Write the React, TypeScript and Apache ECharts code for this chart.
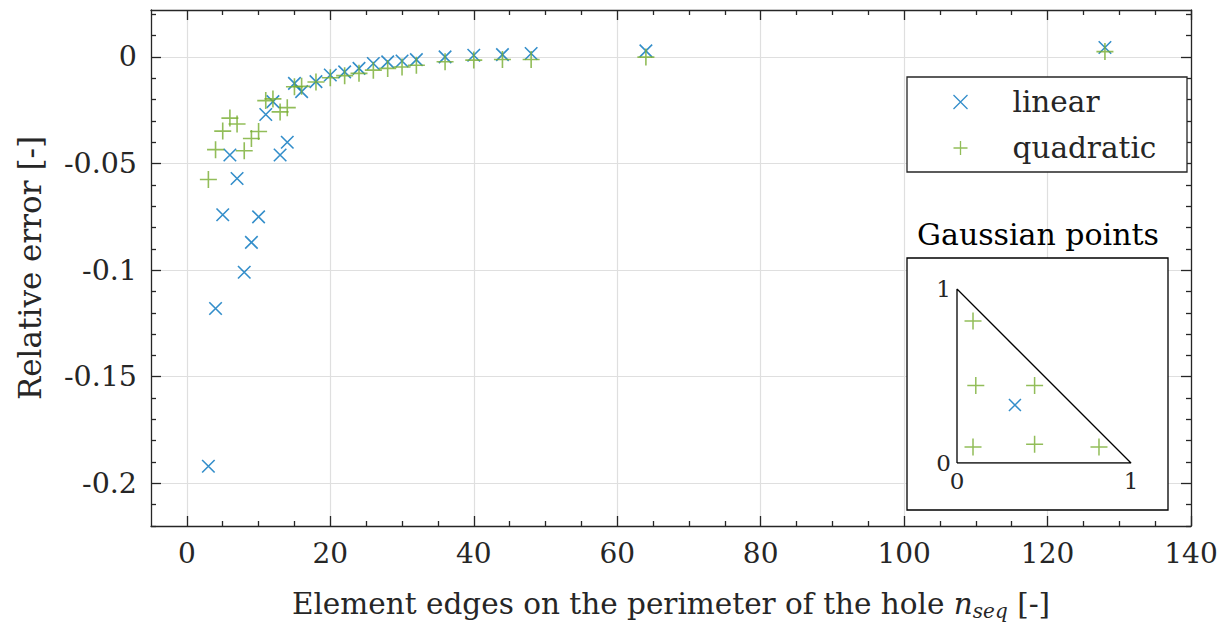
import React, { useEffect, useRef } from 'react';
import * as echarts from 'echarts';

// ---- data ----
const nSeg = [3, 4, 5, 6, 7, 8, 9, 10, 11, 12, 13, 14, 15, 16, 18, 20, 22, 24, 26, 28, 30, 32, 36, 40, 44, 48, 64, 128];
const errLinear = [-0.192, -0.118, -0.074, -0.046, -0.057, -0.101, -0.087, -0.075, -0.027, -0.021, -0.046, -0.040, -0.0124, -0.0163, -0.0116, -0.0085, -0.0070, -0.0054, -0.0031, -0.0023, -0.0019, -0.0013, 0.0000, 0.0008, 0.0011, 0.0016, 0.0028, 0.0044];
const errQuadratic = [-0.0575, -0.0435, -0.0348, -0.0287, -0.0315, -0.0440, -0.0383, -0.0350, -0.0205, -0.0197, -0.0258, -0.0238, -0.0140, -0.0138, -0.0118, -0.0098, -0.0088, -0.0077, -0.0062, -0.0054, -0.0047, -0.0039, -0.0023, -0.0015, -0.0012, -0.0012, -0.0001, 0.0025];

const xMajor = [0, 20, 40, 60, 80, 100, 120, 140];
const xMinor = [5, 10, 15, 25, 30, 35, 45, 50, 55, 65, 70, 75, 85, 90, 95, 105, 110, 115, 125, 130, 135];
const yMajor = [-0.2, -0.15, -0.1, -0.05, 0];
const yMinor = [-0.22, -0.21, -0.19, -0.18, -0.17, -0.16, -0.14, -0.13, -0.12, -0.11, -0.09, -0.08, -0.07, -0.06, -0.04, -0.03, -0.02, -0.01, 0.01, 0.02];

// Gaussian points of the reference triangle
const gaussLinearXi = [0.333];
const gaussLinearEta = [0.333];
const gaussQuadXi = [0.092, 0.816, 0.092, 0.446, 0.446, 0.108];
const gaussQuadEta = [0.092, 0.092, 0.816, 0.108, 0.446, 0.446];
const triangleXi = [0, 1, 0, 0];
const triangleEta = [0, 0, 1, 0];
const insetTicks = [0, 1];

const BLUE = '#0072BD';
const GREEN = '#77AC30';
const INK = '#262626';
const FONT = '"DejaVu Serif", "Liberation Serif", serif';
const X_PATH = 'path://M0,0L10,10M10,0L0,10';
const PLUS_PATH = 'path://M5,0L5,10M0,5L10,5';

const X_MIN = -5, X_MAX = 140, Y_MIN = -0.22, Y_MAX = 0.022;

function mainX(pos: 'bottom' | 'top', major: boolean, withLabels: boolean, name?: string) {
  return {
    type: 'value', gridIndex: 0, position: pos, min: X_MIN, max: X_MAX,
    axisLine: { show: major, onZero: false, lineStyle: { color: INK, width: 1.3 } },
    axisTick: { show: true, inside: true, length: major ? 10 : 5, customValues: major ? xMajor : xMinor, lineStyle: { color: INK, width: 1.3 } },
    axisLabel: withLabels
      ? { show: true, customValues: xMajor, margin: 13, fontSize: 28, fontFamily: FONT, color: INK }
      : { show: false },
    splitLine: { show: major && withLabels, lineStyle: { color: '#dfdfdf', width: 1.2 } },
    name: name,
    nameLocation: 'middle',
    nameGap: 61,
    nameTextStyle: {
      fontSize: 29.5, fontFamily: FONT, color: INK,
      rich: {
        n: { fontSize: 29.5, fontFamily: FONT, fontStyle: 'italic', color: INK },
        sub: { fontSize: 20, fontFamily: FONT, fontStyle: 'italic', color: INK, padding: [14, 0, 0, 0] },
        t: { fontSize: 29.5, fontFamily: FONT, color: INK },
      },
    },
  };
}

function mainY(pos: 'left' | 'right', major: boolean, withLabels: boolean, name?: string) {
  return {
    type: 'value', gridIndex: 0, position: pos, min: Y_MIN, max: Y_MAX,
    axisLine: { show: major, onZero: false, lineStyle: { color: INK, width: 1.3 } },
    axisTick: { show: true, inside: true, length: major ? 10 : 5, customValues: major ? yMajor : yMinor, lineStyle: { color: INK, width: 1.3 } },
    axisLabel: withLabels
      ? { show: true, customValues: yMajor, margin: 14, fontSize: 28.5, fontFamily: FONT, color: INK, formatter: (v: number) => (v === 0 ? '0' : String(v)) }
      : { show: false },
    splitLine: { show: major && withLabels, lineStyle: { color: '#dfdfdf', width: 1.2 } },
    name: name,
    nameLocation: 'middle',
    nameGap: 106,
    nameTextStyle: { fontSize: 31, fontFamily: FONT, color: INK },
  };
}

export default function App() {
  const ref = useRef<HTMLDivElement>(null);
  useEffect(() => {
    if (!ref.current) return;
    const chart = echarts.init(ref.current, undefined, { renderer: 'svg' });
    const linearData = nSeg.map((n, i) => [n, errLinear[i]]);
    const quadData = nSeg.map((n, i) => [n, errQuadratic[i]]);
    const insetAxisCommon = {
      min: 0, max: 1, gridIndex: 1, z: 10,
      axisLine: { show: false, onZero: false },
      axisTick: { show: false },
      splitLine: { show: false },
    };
    chart.setOption({
      animation: false,
      backgroundColor: '#ffffff',
      grid: [
        { left: 151, right: 39, top: 10, bottom: 97, show: false },
        { left: 957, top: 289, width: 174, height: 174, show: false, z: 10 },
      ],
      xAxis: [
        mainX('bottom', true, true, 'Element edges on the perimeter of the hole {n|n}{sub|seq}{t| [-]}'),
        mainX('bottom', false, false),
        mainX('top', true, false),
        mainX('top', false, false),
        {
          ...insetAxisCommon, type: 'value', position: 'bottom',
          axisLabel: { show: true, customValues: insetTicks, margin: 6, fontSize: 23, fontFamily: FONT, color: INK },
        },
      ],
      yAxis: [
        mainY('left', true, true, 'Relative error [-]'),
        mainY('left', false, false),
        mainY('right', true, false),
        mainY('right', false, false),
        {
          ...insetAxisCommon, type: 'value', position: 'left',
          axisLabel: { show: true, customValues: insetTicks, margin: 6, fontSize: 23, fontFamily: FONT, color: INK },
        },
      ],
      legend: {
        orient: 'vertical', left: 951, top: 87, padding: 0, itemWidth: 94, itemHeight: 14, itemGap: 16, z: 20,
        textStyle: { fontSize: 29.5, fontFamily: FONT, color: INK },
        data: [
          { name: 'linear', icon: X_PATH, itemStyle: { color: 'none', borderColor: BLUE, borderWidth: 1.3 } },
          { name: 'quadratic', icon: PLUS_PATH, itemStyle: { color: 'none', borderColor: GREEN, borderWidth: 1.3 } },
        ],
      },
      graphic: [
        { type: 'rect', z: 15, shape: { x: 907, y: 77, width: 280, height: 95 }, style: { fill: '#fff', stroke: INK, lineWidth: 1.3 } },
        { type: 'rect', z: 5, shape: { x: 907, y: 258, width: 261, height: 252 }, style: { fill: '#fff', stroke: '#000', lineWidth: 1.3 } },
        { type: 'text', z: 5, x: 1038, y: 234, style: { text: 'Gaussian points', fontSize: 30, fontFamily: FONT, fill: '#000', align: 'center', verticalAlign: 'middle' } },
      ],
      series: [
        {
          name: 'linear', type: 'scatter', xAxisIndex: 0, yAxisIndex: 0, data: linearData,
          symbol: X_PATH, symbolSize: 12.5, z: 3,
          itemStyle: { color: 'none', borderColor: BLUE, borderWidth: 1.6 },
        },
        {
          name: 'quadratic', type: 'scatter', xAxisIndex: 0, yAxisIndex: 0, data: quadData,
          symbol: PLUS_PATH, symbolSize: 17, z: 3,
          itemStyle: { color: 'none', borderColor: GREEN, borderWidth: 1.6 },
        },
        {
          name: 'triangle', type: 'line', xAxisIndex: 4, yAxisIndex: 4, z: 10,
          data: triangleXi.map((x, i) => [x, triangleEta[i]]),
          symbol: 'none', lineStyle: { color: '#000', width: 1.3 },
        },
        {
          name: 'gaussLinear', type: 'scatter', xAxisIndex: 4, yAxisIndex: 4, z: 11,
          data: gaussLinearXi.map((x, i) => [x, gaussLinearEta[i]]),
          symbol: X_PATH, symbolSize: 12,
          itemStyle: { color: 'none', borderColor: BLUE, borderWidth: 1.5 },
        },
        {
          name: 'gaussQuad', type: 'scatter', xAxisIndex: 4, yAxisIndex: 4, z: 11,
          data: gaussQuadXi.map((x, i) => [x, gaussQuadEta[i]]),
          symbol: PLUS_PATH, symbolSize: 17,
          itemStyle: { color: 'none', borderColor: GREEN, borderWidth: 1.5 },
        },
      ],
    });
    return () => chart.dispose();
  }, []);
  return <div ref={ref} style={{ position: 'absolute', left: 0, top: 0, width: 1230, height: 626 }} />;
}
